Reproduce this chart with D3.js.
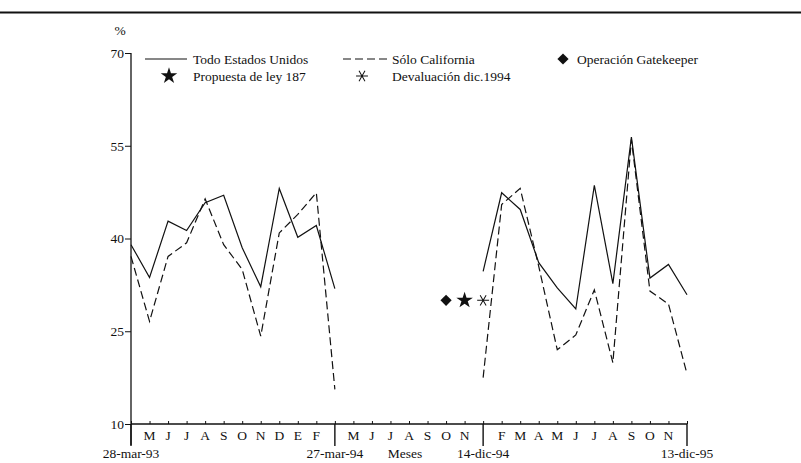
<!DOCTYPE html>
<html><head><meta charset="utf-8">
<script src="https://cdn.jsdelivr.net/npm/d3@7"></script>
<style>body{margin:0;background:#fff}svg{display:block}svg text{font-family:"Liberation Serif","Times New Roman",Times,"DejaVu Serif",serif !important;fill:#111}</style>
</head><body>
<svg id="c" width="801" height="463" font-family="Liberation Serif"></svg>
<script>
// month index positions (0 = 28-mar-93 ... 30 = 13-dic-95)
const seg1Index = [0,1,2,3,4,5,6,7,8,9,10,11];
const seg2Index = [19,20,21,22,23,24,25,26,27,28,29,30];
const usa1 = [39.0,33.7,42.8,41.3,45.8,47.0,38.5,32.2,48.1,40.2,42.1,31.9];
const cal1 = [37.1,26.6,37.1,39.3,46.4,39.0,35.0,24.2,40.9,43.9,47.4,15.6];
const usa2 = [34.7,47.4,44.7,36.1,32.0,28.6,48.6,32.7,56.4,33.6,35.8,30.9];
const cal2 = [17.5,45.5,48.1,35.5,22.0,24.4,31.7,19.9,56.0,31.5,29.4,18.1];
const monthLabels = ["","M","J","J","A","S","O","N","D","E","F","","M","J","J","A","S","O","N","","F","M","A","M","J","J","A","S","O","N",""];
const majorIdx = [0,11,19,30];
const majorLabels = ["28-mar-93","27-mar-94","14-dic-94","13-dic-95"];
const yTicks = [10,25,40,55,70];
const eventIdx = [17,18,19];
const eventVal = [30,30,30];
const eventNames = ["Operación Gatekeeper","Propuesta de ley 187","Devaluación dic.1994"];
const seriesNames = ["Todo Estados Unidos","Sólo California"];

const FS = "13.5px";
const FF = "Liberation Serif, Times New Roman, serif";
const svg = d3.select("#c");
const x = d3.scaleLinear().domain([0,30]).range([131,687]);
const y = d3.scaleLinear().domain([10,70]).range([424,53]);

// top rule
svg.append("line").attr("x1",0).attr("x2",801).attr("y1",12.5).attr("y2",12.5).attr("stroke","#111").attr("stroke-width",1.8);

// y axis
const ya = svg.append("g").attr("transform","translate(131,0)").call(d3.axisLeft(y).tickValues(yTicks).tickSize(6).tickPadding(1));
ya.attr("font-family",FF);
ya.select(".domain").remove();
ya.selectAll("line").attr("stroke","#111");
ya.selectAll("text").style("font-size",FS);
svg.append("line").attr("x1",131).attr("x2",131).attr("y1",53).attr("y2",445).attr("stroke","#111").attr("stroke-width",1.3);

// x axis
const xa = svg.append("g").attr("transform","translate(0,424)").call(d3.axisTop(x).tickValues(d3.range(0,31)).tickSize(3).tickFormat(""));
xa.select(".domain").remove();
xa.selectAll("line").attr("stroke","#111");
svg.append("line").attr("x1",131).attr("x2",687).attr("y1",424).attr("y2",424).attr("stroke","#111").attr("stroke-width",1.3);
svg.selectAll(".maj").data(majorIdx).join("line").attr("class","maj")
  .attr("x1",d=>x(d)).attr("x2",d=>x(d)).attr("y1",424).attr("y2",446).attr("stroke","#111").attr("stroke-width",1.4);
svg.selectAll(".ml").data(monthLabels).join("text").attr("class","ml")
  .attr("x",(d,i)=>x(i)).attr("y",440).attr("text-anchor","middle").style("font-size",FS).text(d=>d);
svg.selectAll(".mj").data(majorIdx).join("text").attr("class","mj")
  .attr("x",d=>x(d)).attr("y",458).attr("text-anchor","middle").style("font-size",FS).text((d,i)=>majorLabels[i]);
svg.append("text").attr("x",405).attr("y",458).attr("text-anchor","middle").style("font-size",FS).text("Meses");
svg.append("text").attr("x",120).attr("y",35).attr("text-anchor","middle").style("font-size",FS).text("%");

// lines
const line = d3.line().x(d=>x(d[0])).y(d=>y(d[1]));
function draw(idx, vals, dash){
  svg.append("path").datum(idx.map((d,i)=>[d,vals[i]])).attr("d",line)
    .attr("fill","none").attr("stroke","#111").attr("stroke-width",1.2)
    .attr("stroke-dasharray",dash?"8,4":null);
}
draw(seg1Index,usa1,false); draw(seg1Index,cal1,true);
draw(seg2Index,usa2,false); draw(seg2Index,cal2,true);

// event markers
function marker(g, k, cx, cy){
  if(k===0){ g.append("path").attr("d",d3.symbol(d3.symbolSquare2,80)()).attr("transform",`translate(${cx},${cy}) rotate(45)`).attr("fill","#111"); }
  else if(k===1){ g.append("path").attr("d",d3.symbol(d3.symbolStar,85)()).attr("transform",`translate(${cx},${cy})`).attr("fill","#111"); }
  else { g.append("path").attr("d",d3.symbol(d3.symbolAsterisk,100)()).attr("transform",`translate(${cx},${cy}) rotate(30)`).attr("fill","none").attr("stroke","#111").attr("stroke-width",1); }
}
eventIdx.forEach((d,i)=>marker(svg,i,x(d),y(eventVal[i])));

// legend
const lg = svg.append("g");
lg.append("line").attr("x1",145).attr("x2",187).attr("y1",59).attr("y2",59).attr("stroke","#111").attr("stroke-width",1.2);
lg.append("text").attr("x",193).attr("y",63.5).style("font-size",FS).text(seriesNames[0]);
lg.append("line").attr("x1",343).attr("x2",387).attr("y1",59).attr("y2",59).attr("stroke","#111").attr("stroke-width",1.2).attr("stroke-dasharray","8,4");
lg.append("text").attr("x",392).attr("y",63.5).style("font-size",FS).text(seriesNames[1]);
marker(lg,1,169,76); lg.append("text").attr("x",193).attr("y",80.5).style("font-size",FS).text(eventNames[1]);
marker(lg,2,362,76); lg.append("text").attr("x",392).attr("y",80.5).style("font-size",FS).text(eventNames[2]);
marker(lg,0,563,59); lg.append("text").attr("x",577).attr("y",63.5).style("font-size",FS).text(eventNames[0]);

svg.selectAll("text").attr("font-family",FF);
</script>
</body></html>
